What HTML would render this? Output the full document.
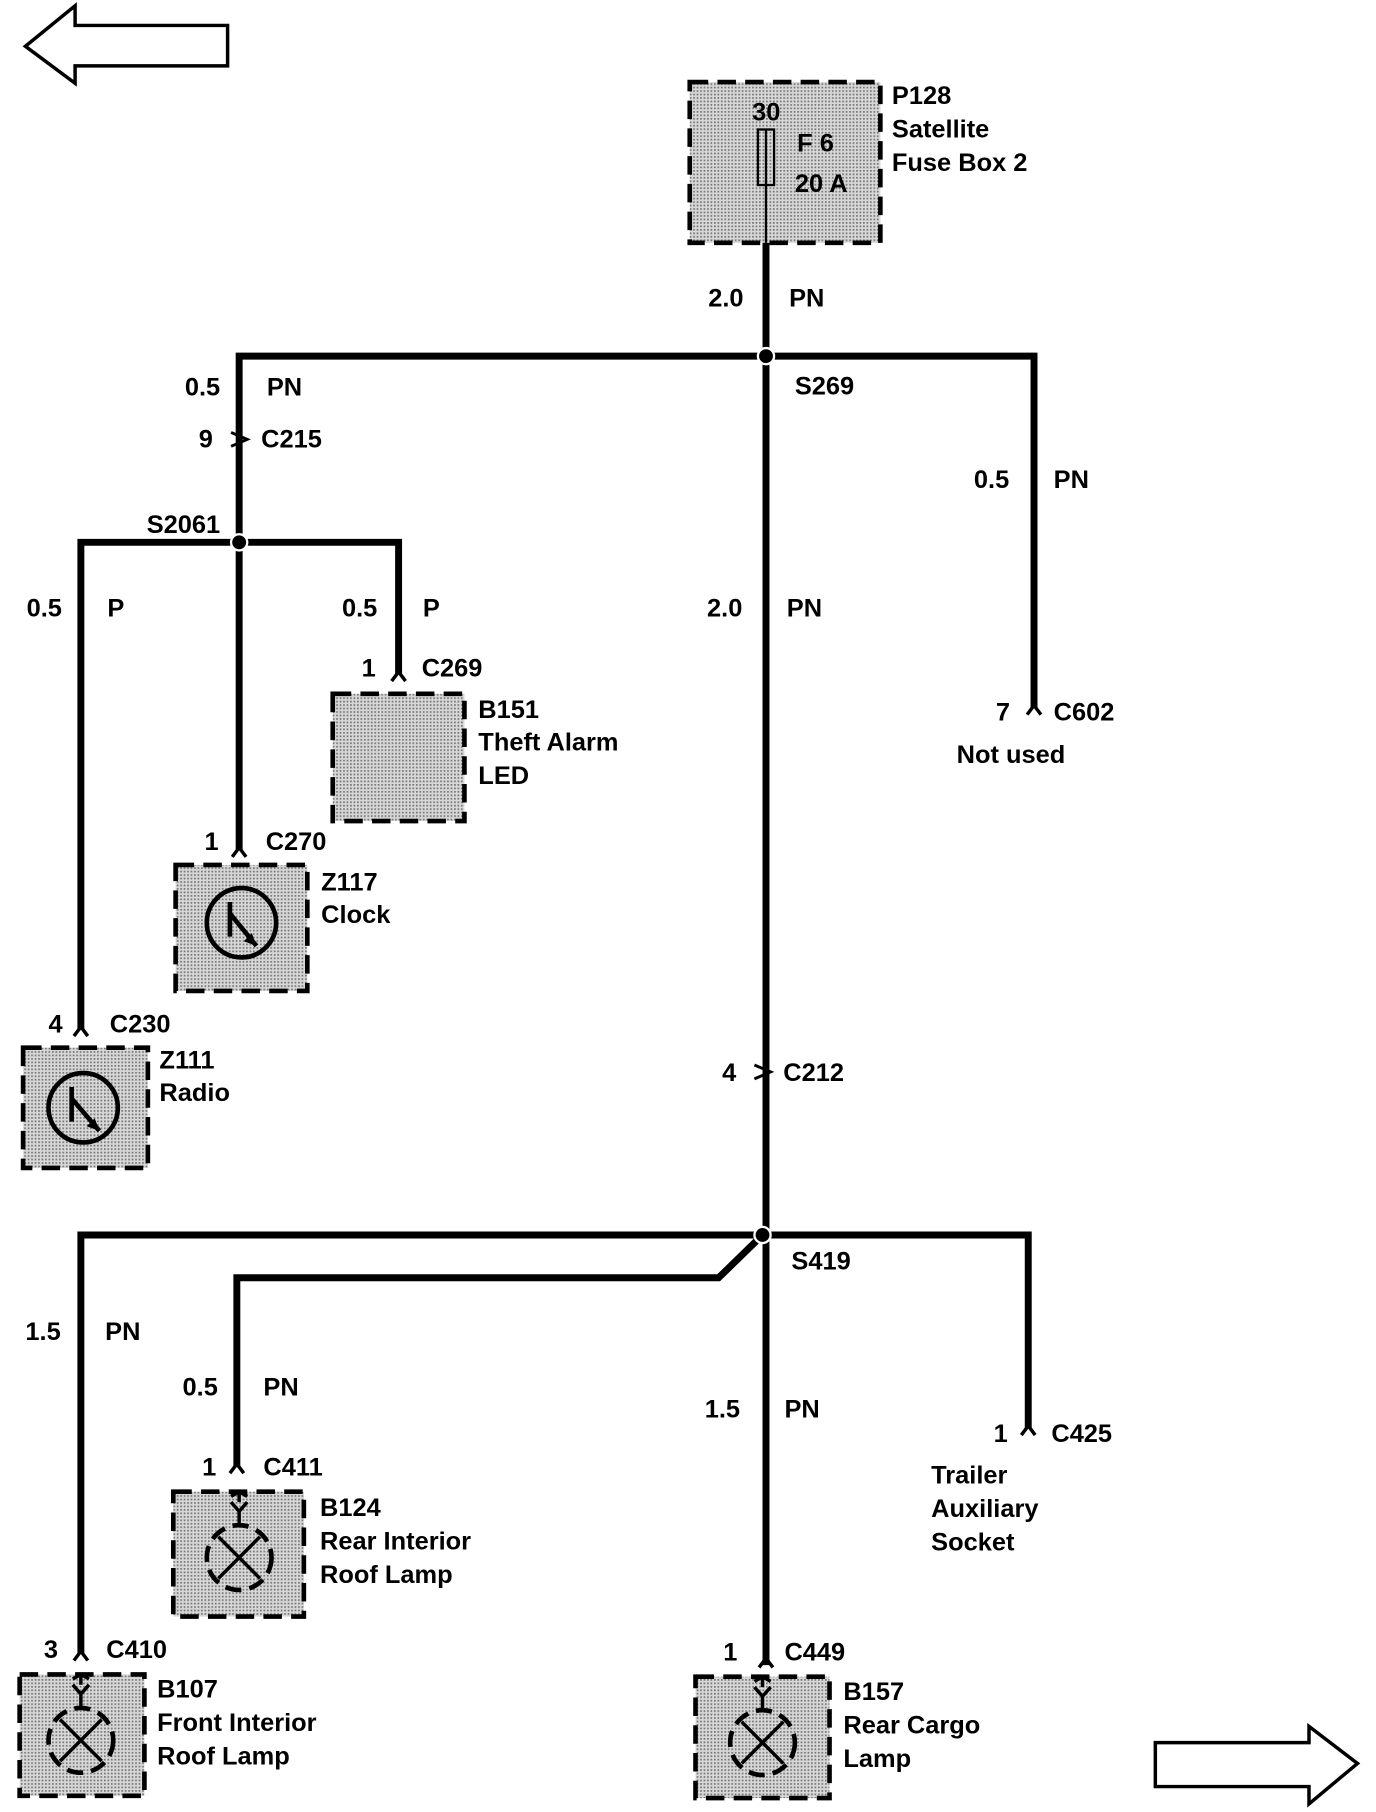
<!DOCTYPE html>
<html><head><meta charset="utf-8"><style>
html,body{margin:0;padding:0;background:#fff}
svg{display:block}
text{font-family:"Liberation Sans",Arial,sans-serif;font-weight:bold;font-size:22px;fill:#000}
</style></head><body>
<svg width="1376" height="1812" viewBox="0 0 1191 1567" preserveAspectRatio="none" xmlns="http://www.w3.org/2000/svg">
<defs>
<pattern id="dot" width="3" height="3" patternUnits="userSpaceOnUse">
<rect width="3" height="3" fill="#d8d8d8"/><rect width="1.5" height="1.5" fill="#777"/>
</pattern>
</defs>
<g fill="none" stroke="#000" stroke-width="3">
<path d="M22 40 L65 5 L65 22 L197 22 L197 57 L65 57 L65 72 Z"/>
<path d="M1000 1507 L1133 1507 L1133 1493 L1175 1525 L1133 1560 L1133 1545 L1000 1545 Z"/>
</g>
<g fill="url(#dot)" stroke="#000" stroke-width="4" stroke-dasharray="16,8">
<rect x="597" y="71" width="165" height="139"/>
<rect x="288" y="600" width="114" height="110"/>
<rect x="152" y="748" width="114" height="109"/>
<rect x="20" y="906" width="108" height="104"/>
<rect x="150" y="1290" width="113" height="108"/>
<rect x="17" y="1448" width="108" height="105"/>
<rect x="602" y="1450" width="116" height="105"/>
</g>
<rect x="656" y="112" width="14" height="48" fill="none" stroke="#000" stroke-width="2"/>
<line x1="663" y1="112" x2="663" y2="210" stroke="#000" stroke-width="2"/>
<g stroke="#000" stroke-width="6" fill="none" stroke-linejoin="miter">
<line x1="663" y1="210" x2="663" y2="1440"/>
<path d="M207 735 L207 308 L895 308 L895 612"/>
<path d="M70 890 L70 469 L345 469 L345 583"/>
<path d="M70 1430 L70 1068 L890 1068 L890 1235"/>
<path d="M660 1068 L622 1105 L205 1105 L205 1268"/>
</g>
<g fill="#000" stroke="#fff" stroke-width="2">
<circle cx="663" cy="308" r="7"/>
<circle cx="207" cy="469" r="7"/>
<circle cx="660" cy="1068" r="7"/>
</g>
<g stroke="#000" stroke-width="2.5" fill="none">
<path d="M200 374 L214 380 L200 386"/>
<path d="M653 921 L667 927 L653 933"/>
</g>
<g stroke="#000" stroke-width="3" fill="none">
<path d="M339 589 L345 581 L351 589"/>
<path d="M201 741 L207 733 L213 741"/>
<path d="M64 896 L70 888 L76 896"/>
<path d="M889 618 L895 610 L901 618"/>
<path d="M884 1241 L890 1233 L896 1241"/>
<path d="M199 1274 L205 1266 L211 1274"/>
<path d="M64 1436 L70 1428 L76 1436"/>
<path d="M657 1442 L663 1434 L669 1442"/>
</g>
<g stroke="#000" stroke-width="4" fill="none">
<circle cx="209" cy="798" r="30"/>
<path d="M199 780 L199 810 M199 790 L222 818"/>
<circle cx="72" cy="958" r="30"/>
<path d="M62 940 L62 970 M62 950 L86 978"/>
</g>
<g fill="#000"><path d="M222 818 L211 814 L218 807 Z"/><path d="M86 978 L75 974 L82 967 Z"/></g>
<g stroke="#000" stroke-width="3" fill="none">
<g transform="translate(207,1347)"><circle r="28" stroke-dasharray="14,7" stroke-width="4"/><path d="M-18 -18 L18 18 M18 -18 L-18 18 M0 -28 L0 -40 L-7 -48 M0 -40 L7 -48 M0 -57 L0 -48 M-7 -53 L0 -57 L7 -53"/></g>
<g transform="translate(70,1505)"><circle r="28" stroke-dasharray="14,7" stroke-width="4"/><path d="M-18 -18 L18 18 M18 -18 L-18 18 M0 -28 L0 -40 L-7 -48 M0 -40 L7 -48 M0 -57 L0 -48 M-7 -53 L0 -57 L7 -53"/></g>
<g transform="translate(660,1507)"><circle r="28" stroke-dasharray="14,7" stroke-width="4"/><path d="M-18 -18 L18 18 M18 -18 L-18 18 M0 -28 L0 -40 L-7 -48 M0 -40 L7 -48 M0 -57 L0 -48 M-7 -53 L0 -57 L7 -53"/></g>
</g>
<text x="651" y="104">30</text>
<text x="690" y="131">F 6</text>
<text x="688" y="166">20 A</text>
<text x="772" y="90">P128</text>
<text x="772" y="119">Satellite</text>
<text x="772" y="148">Fuse Box 2</text>
<text x="613" y="265">2.0</text><text x="683" y="265">PN</text>
<text x="688" y="341">S269</text>
<text x="160" y="342">0.5</text><text x="231" y="342">PN</text>
<text x="172" y="387">9</text><text x="226" y="387">C215</text>
<text x="127" y="461">S2061</text>
<text x="23" y="533">0.5</text><text x="93" y="533">P</text>
<text x="296" y="533">0.5</text><text x="366" y="533">P</text>
<text x="612" y="533">2.0</text><text x="681" y="533">PN</text>
<text x="843" y="422">0.5</text><text x="912" y="422">PN</text>
<text x="313" y="585">1</text><text x="365" y="585">C269</text>
<text x="414" y="621">B151</text><text x="414" y="649">Theft Alarm</text><text x="414" y="678">LED</text>
<text x="862" y="623">7</text><text x="912" y="623">C602</text>
<text x="828" y="660">Not used</text>
<text x="177" y="735">1</text><text x="230" y="735">C270</text>
<text x="278" y="770">Z117</text><text x="278" y="798">Clock</text>
<text x="42" y="893">4</text><text x="95" y="893">C230</text>
<text x="138" y="924">Z111</text><text x="138" y="952">Radio</text>
<text x="625" y="935">4</text><text x="678" y="935">C212</text>
<text x="685" y="1098">S419</text>
<text x="22" y="1159">1.5</text><text x="91" y="1159">PN</text>
<text x="158" y="1207">0.5</text><text x="228" y="1207">PN</text>
<text x="610" y="1226">1.5</text><text x="679" y="1226">PN</text>
<text x="860" y="1247">1</text><text x="910" y="1247">C425</text>
<text x="806" y="1283">Trailer</text><text x="806" y="1312">Auxiliary</text><text x="806" y="1341">Socket</text>
<text x="175" y="1276">1</text><text x="228" y="1276">C411</text>
<text x="277" y="1311">B124</text><text x="277" y="1340">Rear Interior</text><text x="277" y="1369">Roof Lamp</text>
<text x="38" y="1434">3</text><text x="92" y="1434">C410</text>
<text x="136" y="1468">B107</text><text x="136" y="1497">Front Interior</text><text x="136" y="1526">Roof Lamp</text>
<text x="626" y="1436">1</text><text x="679" y="1436">C449</text>
<text x="730" y="1470">B157</text><text x="730" y="1499">Rear Cargo</text><text x="730" y="1528">Lamp</text>
</svg>
</body></html>
